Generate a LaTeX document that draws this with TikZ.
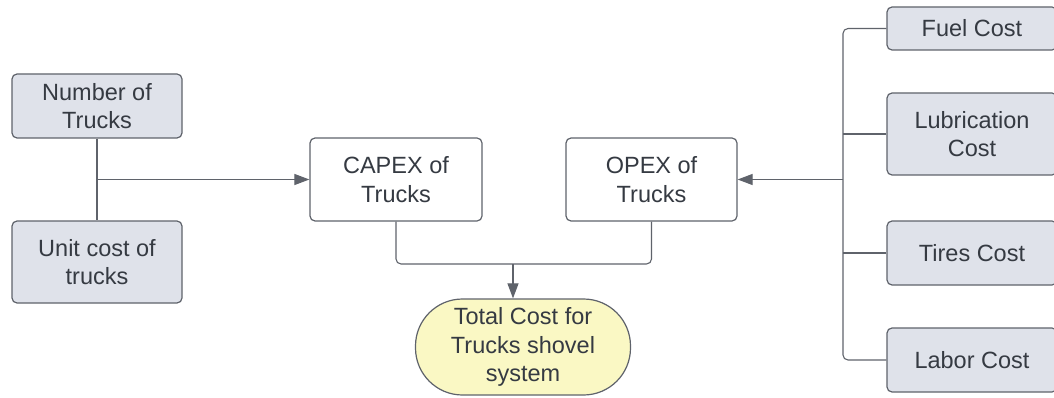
\documentclass[tikz,border=0pt]{standalone}
\usepackage{fontspec}
\setmainfont{Liberation Sans}
\usetikzlibrary{arrows.meta}
\definecolor{boxgray}{HTML}{DFE2EA}
\definecolor{boxline}{HTML}{5F636B}
\definecolor{txt}{HTML}{353A42}
\definecolor{yel}{HTML}{FAF8C4}
\definecolor{conn}{HTML}{5F636B}
\tikzset{
  base/.style={draw=boxline, line width=1.2pt, rounded corners=5pt, align=center,
    text=txt, font=\fontsize{23.5}{28.5}\selectfont, inner sep=0pt},
  graybox/.style={base, fill=boxgray},
  whitebox/.style={base, fill=white},
  conline/.style={draw=conn, line width=1.1pt},
  arr/.style={conline, -{Triangle[length=15pt,width=11pt]}},
}
\begin{document}
\begin{tikzpicture}[x=1pt,y=-1pt]
\useasboundingbox (0,0) rectangle (1054,398);
\node[graybox, minimum width=170pt, minimum height=64pt] (num) at (97,106) {Number of\\Trucks};
\node[graybox, minimum width=170pt, minimum height=82pt] (unit) at (97,262) {Unit cost of\\trucks};
\node[whitebox, minimum width=172pt, minimum height=83pt] (capex) at (396,179.5) {CAPEX of\\Trucks};
\node[whitebox, minimum width=171pt, minimum height=83pt] (opex) at (651.5,179.5) {OPEX of\\Trucks};
\node[base, fill=yel, rounded corners=47pt, minimum width=215pt, minimum height=96pt] (total) at (523,347) {Total Cost for\\Trucks shovel\\system};
\node[graybox, minimum width=170pt, minimum height=43pt] (fuel) at (972,28.5) {Fuel Cost};
\node[graybox, minimum width=170pt, minimum height=82pt] (lub) at (972,134) {Lubrication\\Cost};
\node[graybox, minimum width=170pt, minimum height=64pt] (tires) at (972,253) {Tires Cost};
\node[graybox, minimum width=170pt, minimum height=64pt] (labor) at (972,360) {Labor Cost};
% left
\draw[conline] (num.south) -- (unit.north);
\draw[arr] (num.south |- capex.west) -- (capex.west);
% bottom
\coordinate (j) at (513,264);
\draw[conline, rounded corners=5pt] (capex.south) |- (j) -| (opex.south);
\draw[arr] (j) -- (j |- total.north);
% right
\coordinate (bx) at (843,179.5);
\draw[conline, rounded corners=5pt] (fuel.west) -| (bx) |- (labor.west);
\draw[conline] (lub.west) -- (lub.west -| bx);
\draw[conline] (tires.west) -- (tires.west -| bx);
\draw[arr] (bx) -- (opex.east);
\end{tikzpicture}
\end{document}
